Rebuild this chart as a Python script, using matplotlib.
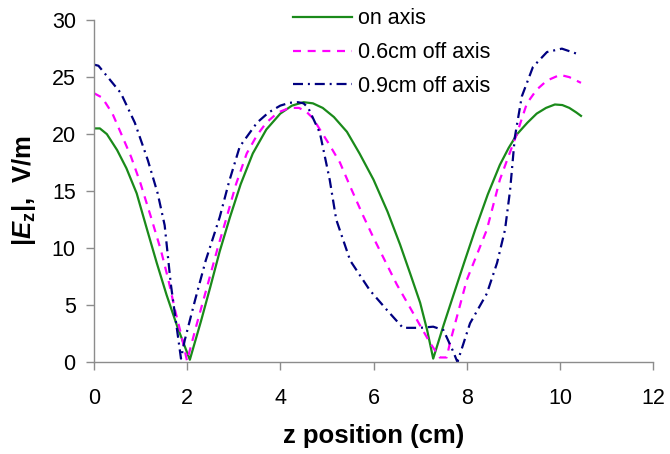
import numpy as np
import matplotlib
matplotlib.use('Agg')
import matplotlib.pyplot as plt

plt.rcParams['font.family'] = ['Liberation Sans', 'DejaVu Sans']
plt.rcParams['mathtext.fontset'] = 'custom'
plt.rcParams['mathtext.rm'] = 'Liberation Sans'
plt.rcParams['mathtext.bf'] = 'Liberation Sans:bold'
plt.rcParams['mathtext.it'] = 'Liberation Sans:italic'
plt.rcParams['mathtext.bfit'] = 'Liberation Sans:bold:italic'

# field magnitude along z, three radial offsets
z_on = [0, 0.13, 0.28, 0.5, 0.7, 0.92, 1.13, 1.35, 1.56, 1.8, 2.06,
        2.3, 2.5, 2.7, 2.92, 3.15, 3.41, 3.7, 4.0, 4.25, 4.5, 4.7, 4.91,
        5.15, 5.43, 5.7, 6.0, 6.3, 6.57, 6.8, 7.0, 7.15, 7.28,
        7.5, 7.7, 7.95, 8.18, 8.45, 8.71, 8.9, 9.08, 9.3, 9.5, 9.7, 9.89,
        10.05, 10.2, 10.35, 10.45]
e_on = [20.5, 20.5, 20.0, 18.6, 17.0, 14.8, 11.8, 8.7, 5.9, 3.0, 0.2,
        3.6, 6.6, 9.7, 12.7, 15.6, 18.3, 20.4, 21.8, 22.5, 22.8, 22.7, 22.3,
        21.5, 20.2, 18.3, 16.0, 13.2, 10.3, 7.6, 5.2, 2.8, 0.3,
        3.2, 5.7, 8.8, 11.6, 14.7, 17.3, 18.8, 20.0, 21.0, 21.8, 22.3, 22.6,
        22.55, 22.3, 21.9, 21.6]

z_06 = [0, 0.18, 0.4, 0.58, 0.8, 1.0, 1.22, 1.44, 1.6, 1.74, 1.88, 2.0,
        2.2, 2.45, 2.65, 2.85, 3.05, 3.28, 3.5, 3.7, 3.95, 4.2, 4.4, 4.55,
        4.7, 4.85, 5.05, 5.28, 5.5, 5.77, 6.0, 6.28, 6.5, 6.78, 7.0, 7.21,
        7.42, 7.57, 7.64, 8.0, 8.43, 8.71, 9.08, 9.29, 9.5, 9.72, 10.0,
        10.2, 10.45]
e_06 = [23.6, 23.2, 21.8, 20.1, 18.0, 15.7, 12.8, 9.8, 7.2, 4.6, 2.3, 0.1,
        3.2, 6.9, 9.9, 12.7, 15.6, 18.3, 19.9, 21.0, 21.9, 22.3, 22.3, 22.0,
        21.4, 20.4, 19.1, 17.5, 15.4, 12.9, 10.9, 8.6, 6.8, 4.8, 3.2, 1.7,
        0.4, 0.4, 1.7, 7.2, 11.6, 16.0, 20.1, 22.7, 23.9, 24.7, 25.2,
        25.0, 24.5]

z_09 = [0, 0.1, 0.3, 0.58, 0.88, 1.16, 1.37, 1.52, 1.65, 1.87, 1.95, 2.17,
        2.4, 2.7, 2.9, 3.13, 3.5, 3.75, 4.0, 4.2, 4.38, 4.5, 4.6, 4.85, 5.06,
        5.2, 5.5, 5.92, 6.28, 6.63, 7.0, 7.28, 7.5, 7.7, 7.8, 8.07, 8.43,
        8.65, 8.82, 8.93, 9.03, 9.18, 9.42, 9.72, 10.04, 10.4]
e_09 = [26.1, 26.0, 25.0, 23.6, 21.0, 17.7, 14.8, 12.0, 6.9, 0.3, 1.9, 5.4,
        8.9, 12.7, 15.8, 18.9, 21.0, 21.9, 22.5, 22.75, 22.8, 22.7, 22.3, 20.1,
        16.0, 12.5, 8.9, 6.3, 4.6, 3.0, 3.0, 3.1, 2.8, 1.0, 0.0, 3.4, 6.0,
        8.7, 11.6, 15.1, 19.7, 23.3, 25.9, 27.2, 27.5, 27.0]

labels = ['on axis', '0.6cm off axis', '0.9cm off axis']

fig = plt.figure(figsize=(6.7, 4.54), dpi=100)
ax = fig.add_axes([0.140, 0.2026, 0.835, 0.753])

lw = 1.6
ax.plot(z_on, e_on, color='#1a8a1a', lw=lw, label=labels[0])
ax.plot(z_06, e_06, color='#ff00ff', lw=lw, ls=(0, (3.6, 3.0)), label=labels[1])
ax.plot(z_09, e_09, color='#000080', lw=lw, ls=(0, (4.5, 2.2, 0.9, 2.2)), label=labels[2])

ax.set_xlim(0, 12)
ax.set_ylim(0, 30)
ax.set_xticks(np.arange(0, 13, 2))
ax.set_yticks(np.arange(0, 31, 5))

for s in ['top', 'right']:
    ax.spines[s].set_visible(False)
for s in ['left', 'bottom']:
    ax.spines[s].set_color('#8c8c8c')
    ax.spines[s].set_linewidth(1.0)
ax.tick_params(direction='out', length=5.5, width=1.0, color='#8c8c8c',
               labelsize=15.5)
ax.tick_params(axis='x', pad=13)
ax.tick_params(axis='y', pad=7.5)

ax.set_xlabel('z position (cm)', fontsize=18.5, fontweight='bold', va='center')
ax.xaxis.set_label_coords(0.5, -0.216)
ax.set_ylabel(r'$\mathbf{|}\boldsymbol{E}_{\mathbf{z}}\mathbf{|}$,  V/m',
              fontsize=18.5, fontweight='bold')
ax.yaxis.set_label_coords(-0.100, 0.5)

ax.legend(loc='upper left', bbox_to_anchor=(0.437, 0.982), bbox_transform=fig.transFigure,
          frameon=False, fontsize=15.5, handlelength=2.75, handletextpad=0.28,
          labelspacing=0.6, borderpad=0, borderaxespad=0)

fig.savefig('out.png', dpi=100)
